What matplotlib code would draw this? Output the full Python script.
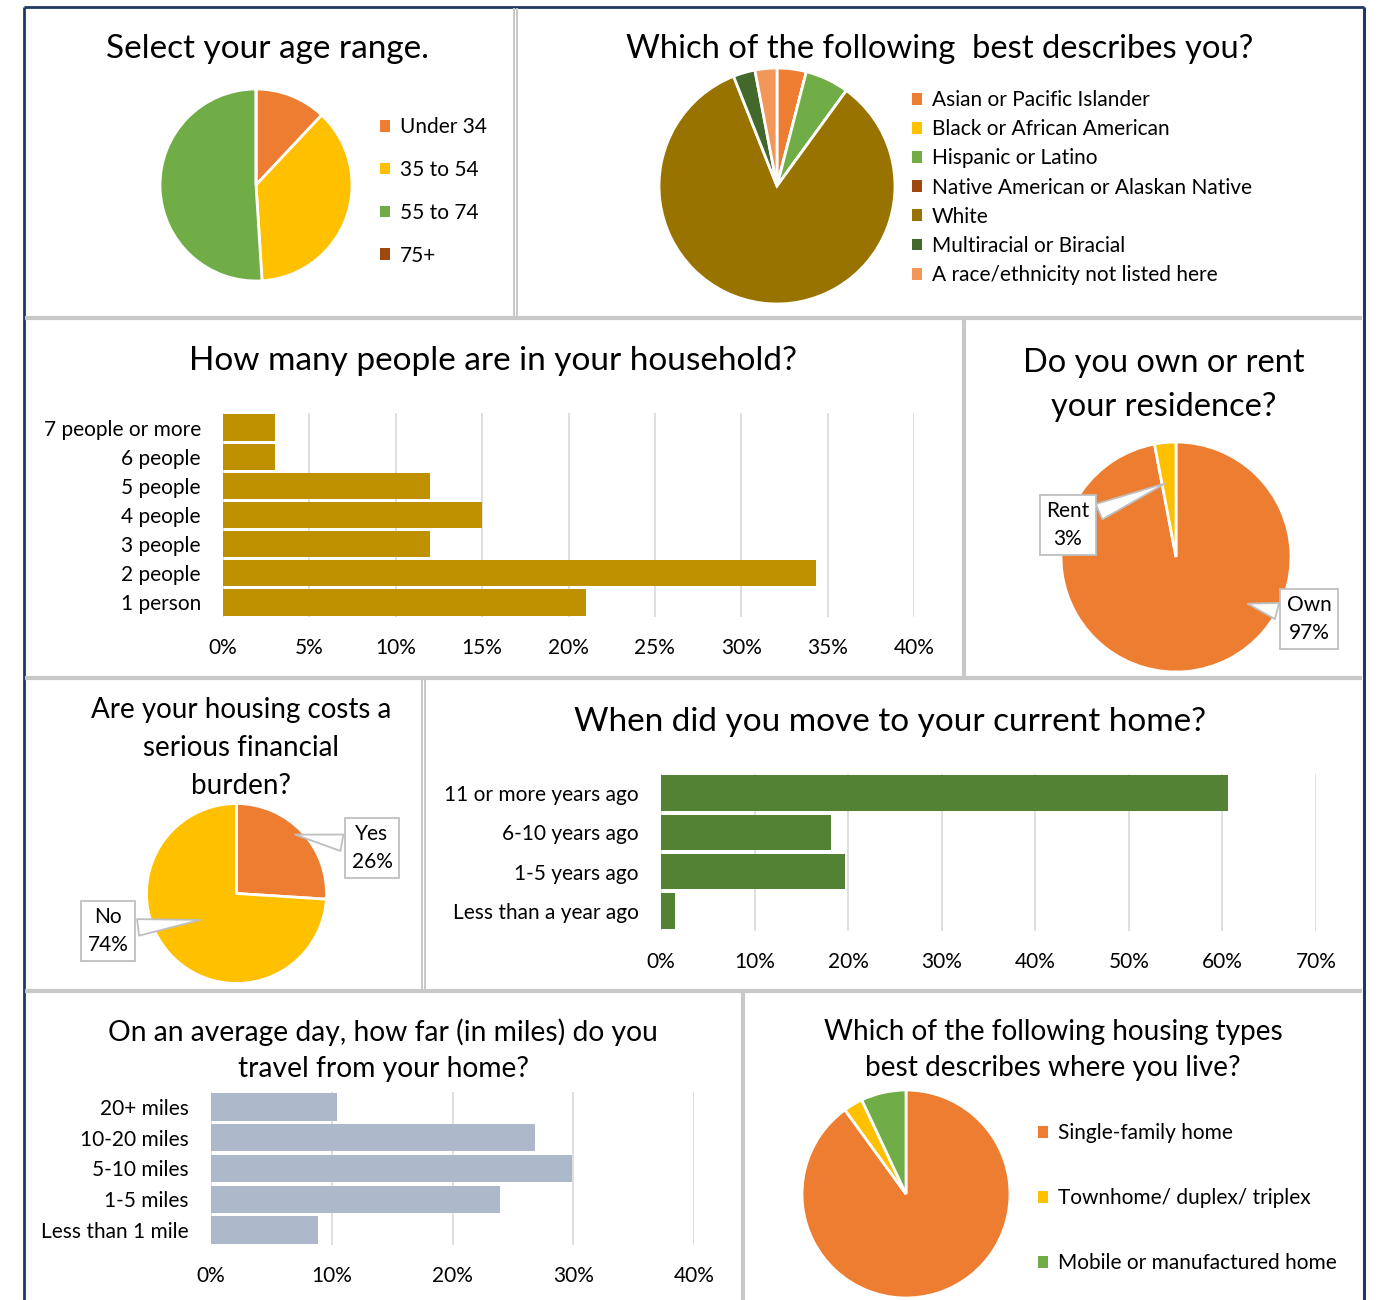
import matplotlib
matplotlib.use('Agg')
import matplotlib.pyplot as plt
from matplotlib.patches import Patch
from matplotlib.lines import Line2D
import numpy as np

plt.rcParams['font.family'] = ['Lato', 'DejaVu Sans']

W, H = 1378, 1300

# --- data ---
age_labels = ['Under 34', '35 to 54', '55 to 74', '75+']
age_values = [12, 37, 51, 0]
age_colors = ['#ED7D31', '#FFC000', '#70AD47', '#9E480E']

race_labels = ['Asian or Pacific Islander', 'Black or African American', 'Hispanic or Latino',
               'Native American or Alaskan Native', 'White', 'Multiracial or Biracial',
               'A race/ethnicity not listed here']
race_values = [4, 0, 6, 0, 84, 3, 3]
race_colors = ['#ED7D31', '#FFC000', '#70AD47', '#9E480E', '#997300', '#43682B', '#F1975A']

household_cats = ['7 people or more', '6 people', '5 people', '4 people', '3 people', '2 people', '1 person']
household_vals = [3, 3, 12, 15, 12, 34.3, 21]

tenure_labels = ['Own', 'Rent']
tenure_values = [97, 3]

burden_labels = ['Yes', 'No']
burden_values = [26, 74]

move_cats = ['11 or more years ago', '6-10 years ago', '1-5 years ago', 'Less than a year ago']
move_vals = [60.6, 18.2, 19.7, 1.5]

travel_cats = ['20+ miles', '10-20 miles', '5-10 miles', '1-5 miles', 'Less than 1 mile']
travel_vals = [10.4, 26.8, 29.9, 23.9, 8.9]

housing_labels = ['Single-family home', 'Townhome/ duplex/ triplex', 'Mobile or manufactured home']
housing_values = [90, 3, 7]

fig = plt.figure(figsize=(W / 100, H / 100), dpi=100)


def box(x0, y0, x1, y1):
    # pixel box (top-left origin) -> figure rect
    return [x0 / W, 1 - y1 / H, (x1 - x0) / W, (y1 - y0) / H]


def px(x, y):
    return (x / W, 1 - y / H)


def line(x0, y0, x1, y1, color='#C8C8C8', lw=3):
    fig.add_artist(Line2D([x0 / W, x1 / W], [1 - y0 / H, 1 - y1 / H],
                          transform=fig.transFigure, color=color, lw=lw, solid_capstyle='butt'))


def title(x, y, text, size=24, ls=1.2):
    fig.text(x / W, 1 - y / H, text, ha='center', va='center', fontsize=size, linespacing=ls)


def pie_panel(cx, cy, r, values, colors):
    ax = fig.add_axes(box(cx - r, cy - r, cx + r, cy + r))
    ax.pie(values, colors=colors, startangle=90, counterclock=False, radius=1,
           wedgeprops=dict(edgecolor='white', linewidth=2))
    ax.set_xlim(-1.0, 1.0)
    ax.set_ylim(-1.0, 1.0)
    ax.set_aspect('equal')
    ax.axis('off')
    return ax


def pie_legend(ax, labels, colors, x, y, spacing, size=15):
    handles = [Patch(facecolor=c, edgecolor='none') for c in colors]
    ax.legend(handles, labels, loc='upper left', bbox_to_anchor=px(x, y),
              bbox_transform=fig.transFigure, frameon=False, fontsize=size,
              handlelength=0.5, handleheight=0.5, handletextpad=0.45,
              labelspacing=spacing, borderpad=0, borderaxespad=0)


def callout(ax, text, xy, x, y):
    ax.annotate(text, xy=xy, xycoords='data', xytext=(x, H - y), textcoords='figure pixels',
                ha='center', va='center', fontsize=15, linespacing=1.45,
                bbox=dict(boxstyle='square,pad=0.3', fc='white', ec='#BFBFBF', lw=1.3),
                arrowprops=dict(arrowstyle='wedge,tail_width=0.8,shrink_factor=0.5',
                                fc='white', ec='#BFBFBF', lw=1.3))


def bar_panel(rect, cats, vals, color, xmax, step, height):
    ax = fig.add_axes(box(*rect))
    y = np.arange(len(cats))[::-1]
    ax.barh(y, vals, height=height, color=color, zorder=2)
    ax.set_yticks(y, cats)
    ax.set_xlim(0, xmax)
    ax.set_ylim(-0.5, len(cats) - 0.5)
    ticks = np.arange(0, xmax + 1, step)
    ax.set_xticks(ticks, [f'{t}%' for t in ticks])
    ax.grid(axis='x', color='#D9D9D9', lw=1.2, zorder=0)
    for s in ax.spines.values():
        s.set_visible(False)
    ax.tick_params(axis='both', length=0, labelsize=15)
    ax.tick_params(axis='x', pad=15)
    ax.tick_params(axis='y', pad=16)
    return ax


# --- panel frame ---
line(24, 7, 1364, 7, color='#1F3864', lw=2)
line(24, 7, 24, 1300, color='#1F3864', lw=2)
line(1363.5, 7, 1363.5, 1300, color='#1F3864', lw=2.2)
line(25, 317.5, 1362, 317.5)
line(25, 677.5, 1362, 677.5)
line(25, 991, 1362, 991)
line(513.5, 8, 513.5, 316, lw=1.4)
line(516.5, 8, 516.5, 316, lw=1.4)
line(963.5, 319, 963.5, 676)
line(421.5, 679, 421.5, 989, lw=1.4)
line(424.5, 679, 424.5, 989, lw=1.4)
line(742.5, 992, 742.5, 1300)

# --- age ---
title(268, 49, 'Select your age range.')
ax = pie_panel(256, 185, 96, age_values, age_colors)
pie_legend(ax, age_labels, age_colors, 380, 117, 1.1)

# --- race ---
title(940, 49, 'Which of the following  best describes you?', size=23.6)
ax = pie_panel(777, 186, 118, race_values, race_colors)
pie_legend(ax, race_labels, race_colors, 912, 90, 0.44)

# --- household ---
title(493, 361, 'How many people are in your household?')
bar_panel((223, 413, 914, 617), household_cats, household_vals, '#BF9000', 40, 5, 0.9)

# --- own / rent ---
title(1164, 385, 'Do you own or rent\nyour residence?', size=23.4, ls=1.57)
ax = pie_panel(1176, 557, 115, tenure_values, ['#ED7D31', '#FFC000'])
callout(ax, f'{tenure_labels[1]}\n{tenure_values[1]}%', (-0.07, 0.65), 1068, 525)
callout(ax, f'{tenure_labels[0]}\n{tenure_values[0]}%', (0.60, -0.40), 1309, 619)

# --- burden ---
title(241, 748, 'Are your housing costs a\nserious financial\nburden?', size=20, ls=1.56)
ax = pie_panel(236.5, 893.5, 90, burden_values, ['#ED7D31', '#FFC000'])
callout(ax, f'{burden_labels[0]}\n{burden_values[0]}%', (0.62, 0.66), 372, 848)
callout(ax, f'{burden_labels[1]}\n{burden_values[1]}%', (-0.37, -0.29), 108, 931)

# --- move ---
title(890, 722, 'When did you move to your current home?')
bar_panel((661, 773.5, 1316, 930.7), move_cats, move_vals, '#548235', 70, 10, 0.9)

# --- travel ---
title(383, 1050, 'On an average day, how far (in miles) do you\ntravel from your home?', size=20.3, ls=1.5)
bar_panel((211, 1091.6, 694, 1245.4), travel_cats, travel_vals, '#ADB9CA', 40, 10, 0.88)

# --- housing type ---
title(1053, 1050, 'Which of the following housing types\nbest describes where you live?', size=20.2, ls=1.5)
ax = pie_panel(906, 1194, 104, housing_values, ['#ED7D31', '#FFC000', '#70AD47'])
pie_legend(ax, housing_labels, ['#ED7D31', '#FFC000', '#70AD47'], 1038, 1123, 2.17)

fig.savefig('out.png', dpi=100, facecolor='white')
